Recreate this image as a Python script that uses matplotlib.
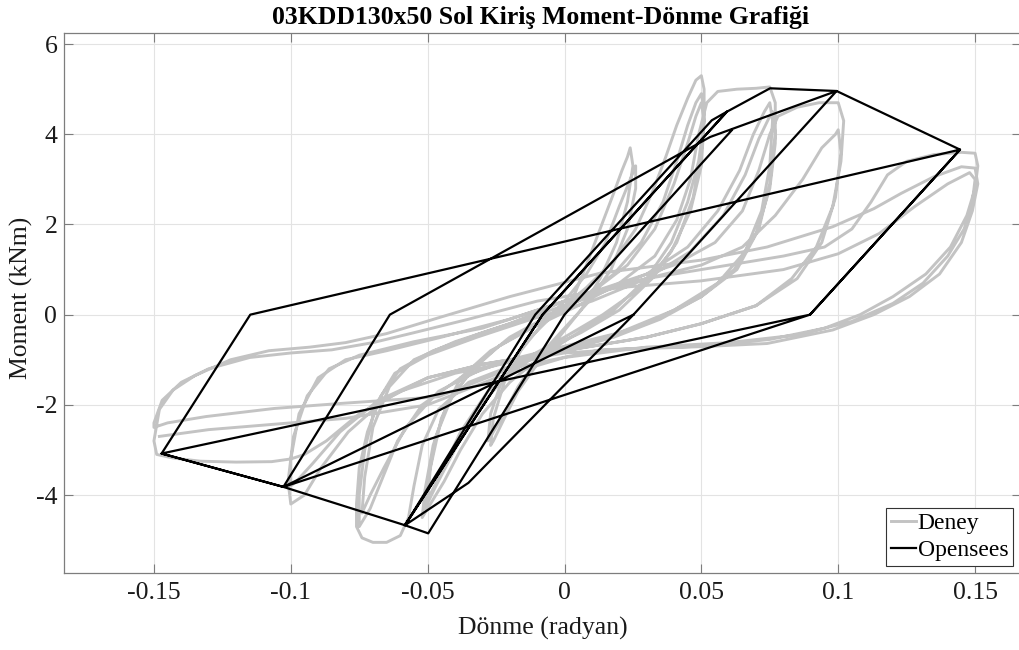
import matplotlib
matplotlib.use("Agg")
import matplotlib.pyplot as plt

cycles = [
    [(0, 0), (0.004, 0.5), (0.008, 1.1), (0.013, 1.9), (0.018, 2.7), (0.021, 3.2), (0.023, 3.5),
     (0.024, 3.7), (0.025, 3.3), (0.023, 2.5), (0.019, 1.6), (0.013, 0.8), (0.006, 0.1),
     (-0.002, -0.5), (-0.01, -1.1), (-0.017, -1.7), (-0.022, -2.3), (-0.026, -2.8), (-0.027, -2.9)],
    [(-0.026, -2.3), (-0.022, -1.5), (-0.016, -0.8), (-0.008, -0.2), (0.0, 0.3), (0.008, 0.9),
     (0.015, 1.6), (0.02, 2.4), (0.024, 3.0), (0.026, 3.3), (0.026, 2.8), (0.023, 1.9),
     (0.017, 1.0), (0.009, 0.3), (0.0, -0.3), (-0.009, -0.9), (-0.017, -1.6), (-0.023, -2.3),
     (-0.028, -2.8)],
    [(-0.027, -2.2), (-0.022, -1.3), (-0.014, -0.6), (-0.004, 0.0), (0.008, 0.6), (0.018, 1.2),
     (0.026, 1.9), (0.032, 2.7), (0.037, 3.5), (0.041, 4.2), (0.045, 4.8), (0.048, 5.2),
     (0.05, 5.3), (0.051, 5.0), (0.051, 4.3), (0.049, 3.4), (0.045, 2.5), (0.039, 1.6),
     (0.03, 0.8), (0.018, 0.1), (0.005, -0.4), (-0.008, -0.9), (-0.02, -1.5), (-0.03, -2.2),
     (-0.038, -3.0), (-0.044, -3.7), (-0.049, -4.2), (-0.052, -4.5)],
    [(-0.051, -3.9), (-0.048, -2.9), (-0.043, -2.0), (-0.035, -1.3), (-0.024, -0.7),
     (-0.01, -0.2), (0.005, 0.3), (0.018, 0.9), (0.028, 1.6), (0.036, 2.5), (0.041, 3.4),
     (0.045, 4.2), (0.048, 4.7), (0.05, 4.9), (0.051, 4.5), (0.05, 3.6), (0.047, 2.6),
     (0.041, 1.6), (0.032, 0.8), (0.02, 0.1), (0.006, -0.4), (-0.008, -0.8), (-0.022, -1.4),
     (-0.033, -2.2), (-0.041, -3.1), (-0.047, -3.8), (-0.051, -4.3)],
    [(-0.05, -3.7), (-0.047, -2.7), (-0.041, -1.8), (-0.032, -1.1), (-0.02, -0.5), (-0.005, 0.0),
     (0.01, 0.5), (0.023, 1.1), (0.033, 1.9), (0.04, 2.9), (0.045, 3.8), (0.048, 4.4),
     (0.05, 4.7), (0.051, 4.3), (0.05, 3.3), (0.046, 2.3), (0.039, 1.4), (0.028, 0.6),
     (0.014, 0.0), (0.0, -0.5), (-0.015, -1.0), (-0.028, -1.7), (-0.038, -2.6), (-0.045, -3.5),
     (-0.05, -4.1)],
    [(-0.049, -3.4), (-0.045, -2.3), (-0.038, -1.4), (-0.027, -0.8), (-0.012, -0.3),
     (0.005, 0.2), (0.02, 0.7), (0.033, 1.3), (0.041, 2.1), (0.046, 3.0), (0.049, 4.0),
     (0.052, 4.7), (0.056, 4.95), (0.063, 5.0), (0.07, 5.02), (0.075, 5.05), (0.077, 4.7),
     (0.077, 3.8), (0.075, 2.8), (0.07, 1.8), (0.062, 1.0), (0.05, 0.4), (0.035, -0.1),
     (0.018, -0.5), (0.0, -0.8), (-0.018, -1.1), (-0.035, -1.5), (-0.046, -2.1), (-0.052, -2.9),
     (-0.055, -3.8), (-0.057, -4.5), (-0.06, -4.9), (-0.065, -5.05), (-0.07, -5.05),
     (-0.074, -4.95), (-0.076, -4.7)],
    [(-0.076, -4.2), (-0.075, -3.4), (-0.072, -2.6), (-0.067, -1.8), (-0.06, -1.2),
     (-0.048, -0.8), (-0.03, -0.4), (-0.01, 0.0), (0.01, 0.4), (0.03, 0.9), (0.045, 1.5),
     (0.056, 2.3), (0.064, 3.2), (0.069, 4.0), (0.073, 4.5), (0.075, 4.7), (0.076, 4.3),
     (0.075, 3.3), (0.072, 2.3), (0.066, 1.4), (0.056, 0.7), (0.04, 0.1), (0.02, -0.4),
     (0.0, -0.7), (-0.02, -1.0), (-0.038, -1.4), (-0.052, -2.0), (-0.061, -2.8), (-0.067, -3.7),
     (-0.071, -4.3), (-0.075, -4.7)],
    [(-0.075, -4.0), (-0.073, -3.0), (-0.069, -2.0), (-0.062, -1.3), (-0.05, -0.9),
     (-0.032, -0.5), (-0.012, -0.1), (0.01, 0.3), (0.03, 0.8), (0.046, 1.4), (0.058, 2.2),
     (0.066, 3.1), (0.071, 3.9), (0.075, 4.4), (0.076, 4.5), (0.077, 4.0), (0.075, 2.9),
     (0.071, 1.9), (0.063, 1.0), (0.05, 0.4), (0.03, -0.2), (0.01, -0.6), (-0.01, -0.9),
     (-0.03, -1.2), (-0.046, -1.7), (-0.058, -2.5), (-0.066, -3.4), (-0.071, -4.0),
     (-0.074, -4.4)],
    [(-0.073, -3.6), (-0.07, -2.5), (-0.064, -1.6), (-0.055, -1.0), (-0.04, -0.6), (-0.02, -0.2),
     (0.0, 0.3), (0.02, 0.7), (0.04, 1.1), (0.055, 1.6), (0.065, 2.3), (0.071, 3.2),
     (0.075, 4.0), (0.078, 4.4), (0.085, 4.6), (0.093, 4.7), (0.1, 4.7), (0.102, 4.3),
     (0.101, 3.4), (0.098, 2.4), (0.092, 1.5), (0.083, 0.8), (0.07, 0.2), (0.05, -0.2),
     (0.03, -0.5), (0.01, -0.7), (-0.01, -0.9), (-0.03, -1.1), (-0.05, -1.4), (-0.066, -1.9),
     (-0.079, -2.6), (-0.089, -3.4), (-0.095, -4.0), (-0.1, -4.2)],
    [(-0.101, -3.7), (-0.099, -2.7), (-0.094, -1.8), (-0.086, -1.2), (-0.075, -0.9),
     (-0.055, -0.6), (-0.03, -0.3), (-0.01, 0.1), (0.01, 0.5), (0.03, 0.8), (0.05, 1.1),
     (0.065, 1.5), (0.077, 2.2), (0.087, 3.0), (0.094, 3.7), (0.099, 4.0), (0.1, 4.1),
     (0.101, 3.6), (0.099, 2.6), (0.094, 1.6), (0.085, 0.8), (0.07, 0.2), (0.05, -0.2),
     (0.03, -0.5), (0.01, -0.7), (-0.01, -0.9), (-0.03, -1.1), (-0.05, -1.4), (-0.068, -1.9),
     (-0.082, -2.6), (-0.092, -3.3), (-0.098, -3.7), (-0.1, -3.8)],
    [(-0.1, -3.2), (-0.097, -2.2), (-0.09, -1.4), (-0.08, -1.0), (-0.065, -0.8), (-0.045, -0.5),
     (-0.02, -0.1), (0.0, 0.3), (0.03, 0.8), (0.06, 1.1), (0.08, 1.3), (0.095, 1.5),
     (0.105, 1.9), (0.112, 2.5), (0.118, 3.1), (0.125, 3.4), (0.135, 3.55), (0.145, 3.6),
     (0.15, 3.58), (0.151, 3.3), (0.15, 2.8), (0.147, 2.2), (0.141, 1.5), (0.132, 0.9),
     (0.12, 0.4), (0.108, 0.0), (0.095, -0.3), (0.075, -0.55), (0.05, -0.7), (0.025, -0.75),
     (0.0, -0.85), (-0.02, -1.05), (-0.04, -1.3), (-0.06, -1.7), (-0.075, -2.2), (-0.087, -2.8),
     (-0.095, -3.1), (-0.1, -3.2), (-0.107, -3.26), (-0.12, -3.27), (-0.133, -3.25),
     (-0.143, -3.18), (-0.149, -3.1)],
    [(-0.15, -2.8), (-0.148, -2.1), (-0.143, -1.67), (-0.135, -1.35), (-0.122, -1.0),
     (-0.108, -0.8), (-0.093, -0.72), (-0.08, -0.62), (-0.065, -0.42), (-0.045, -0.05),
     (-0.02, 0.4), (0.013, 0.92), (0.05, 1.21), (0.074, 1.5), (0.098, 1.95), (0.113, 2.35),
     (0.123, 2.69), (0.135, 3.06), (0.145, 3.28), (0.15, 3.25), (0.151, 2.9), (0.149, 2.3),
     (0.145, 1.6), (0.137, 0.9), (0.126, 0.4), (0.113, 0.0), (0.098, -0.34), (0.074, -0.64),
     (0.05, -0.71), (0.013, -0.78), (-0.02, -1.2), (-0.046, -1.82), (-0.082, -1.97),
     (-0.106, -2.08), (-0.131, -2.26), (-0.145, -2.4), (-0.15, -2.5)],
    [(-0.15, -2.4), (-0.147, -1.9), (-0.14, -1.5), (-0.13, -1.2), (-0.115, -0.95),
     (-0.1, -0.85), (-0.085, -0.78), (-0.07, -0.62), (-0.055, -0.4), (-0.035, -0.1),
     (-0.01, 0.3), (0.02, 0.6), (0.05, 0.75), (0.08, 1.0), (0.1, 1.35), (0.115, 1.8),
     (0.128, 2.4), (0.14, 2.9), (0.148, 3.15), (0.15, 3.0), (0.149, 2.5), (0.146, 1.9),
     (0.14, 1.3), (0.131, 0.7), (0.12, 0.25), (0.105, -0.15), (0.085, -0.45), (0.06, -0.62),
     (0.03, -0.72), (0.0, -0.95), (-0.025, -1.4), (-0.05, -2.0), (-0.08, -2.3), (-0.11, -2.45),
     (-0.13, -2.55), (-0.148, -2.7)],
]
deney_rot = [p[0] for c in cycles for p in c]
deney_mom = [p[1] for c in cycles for p in c]

# Opensees model - vertices of the simulated response
opensees_rot = [0.0252, -0.1027, -0.0638, 0.0532, 0.0994, 0.0252, -0.0351, -0.0583, -0.0107,
                0.0538, 0.0593, 0.0751, 0.0994, 0.1445, 0.0897, 0.1445, -0.1148, -0.1472,
                0.0897, -0.1027, -0.1472, -0.1027, -0.0583, -0.0080, 0.0593, -0.0080,
                -0.0583, -0.0498, 0.0, 0.0611]
opensees_mom = [0.0, -3.82, 0.0, 3.94, 4.96, 0.0, -3.73, -4.67, 0.0,
                4.31, 4.50, 5.02, 4.96, 3.66, 0.0, 3.66, 0.0, -3.08,
                0.0, -3.82, -3.08, -3.82, -4.67, 0.0, 4.50, 0.0,
                -4.67, -4.85, 0.0, 4.09]

xticks = [-0.15, -0.1, -0.05, 0, 0.05, 0.1, 0.15]
xtick_labels = ["-0.15", "-0.1", "-0.05", "0", "0.05", "0.1", "0.15"]
yticks = [-4, -2, 0, 2, 4, 6]
ytick_labels = ["-4", "-2", "0", "2", "4", "6"]

plt.rcParams['font.family'] = ['Liberation Serif', 'DejaVu Serif']
plt.rcParams['axes.unicode_minus'] = False

fig = plt.figure(figsize=(10.19, 6.5), dpi=100)
ax = fig.add_axes([0.0631, 0.1189, 0.9389, 0.8299])

ax.plot(deney_rot, deney_mom, color='#c3c3c3', lw=2.1, label='Deney',
        solid_joinstyle='round')
ax.plot(opensees_rot, opensees_mom, color='black', lw=1.6, label='Opensees')

ax.set_xlim(-0.18275, 0.16679)
ax.set_ylim(-5.723, 6.24)
ax.set_xticks(xticks)
ax.set_xticklabels(xtick_labels)
ax.set_yticks(yticks)
ax.set_yticklabels(ytick_labels)
ax.grid(True, color='#e3e3e3', lw=0.8)
ax.set_axisbelow(True)

axis_gray = '#7d7d7d'
for sp in ax.spines.values():
    sp.set_color(axis_gray)
    sp.set_linewidth(0.9)
ax.tick_params(direction='in', length=6.5, width=0.8, color=axis_gray,
               top=True, right=True, labelsize=18.5, labelcolor='#1a1a1a')
ax.tick_params(axis='x', pad=7)
ax.tick_params(axis='y', pad=5)

ax.set_xlabel('Dönme (radyan)', fontsize=18.5, color='#1a1a1a')
ax.xaxis.set_label_coords(0.5, -0.082)
ax.set_ylabel('Moment (kNm)', fontsize=18.5, color='#1a1a1a')
ax.yaxis.set_label_coords(-0.033, 0.51)

fig.text(541 / 1019, 1 - 24 / 650, '03KDD130x50 Sol Kiriş Moment-Dönme Grafiği',
         ha='center', va='baseline', fontsize=18.5, fontweight='bold')

leg = ax.legend(loc='lower right', bbox_to_anchor=(0.9916, 0.0124), borderaxespad=0,
                fontsize=17, handlelength=1.1, handletextpad=0.05, borderpad=0.2,
                labelspacing=0.25, fancybox=False, framealpha=1)
leg.get_frame().set_edgecolor('#333333')
leg.get_frame().set_linewidth(0.8)

fig.savefig('out.png', dpi=100)
